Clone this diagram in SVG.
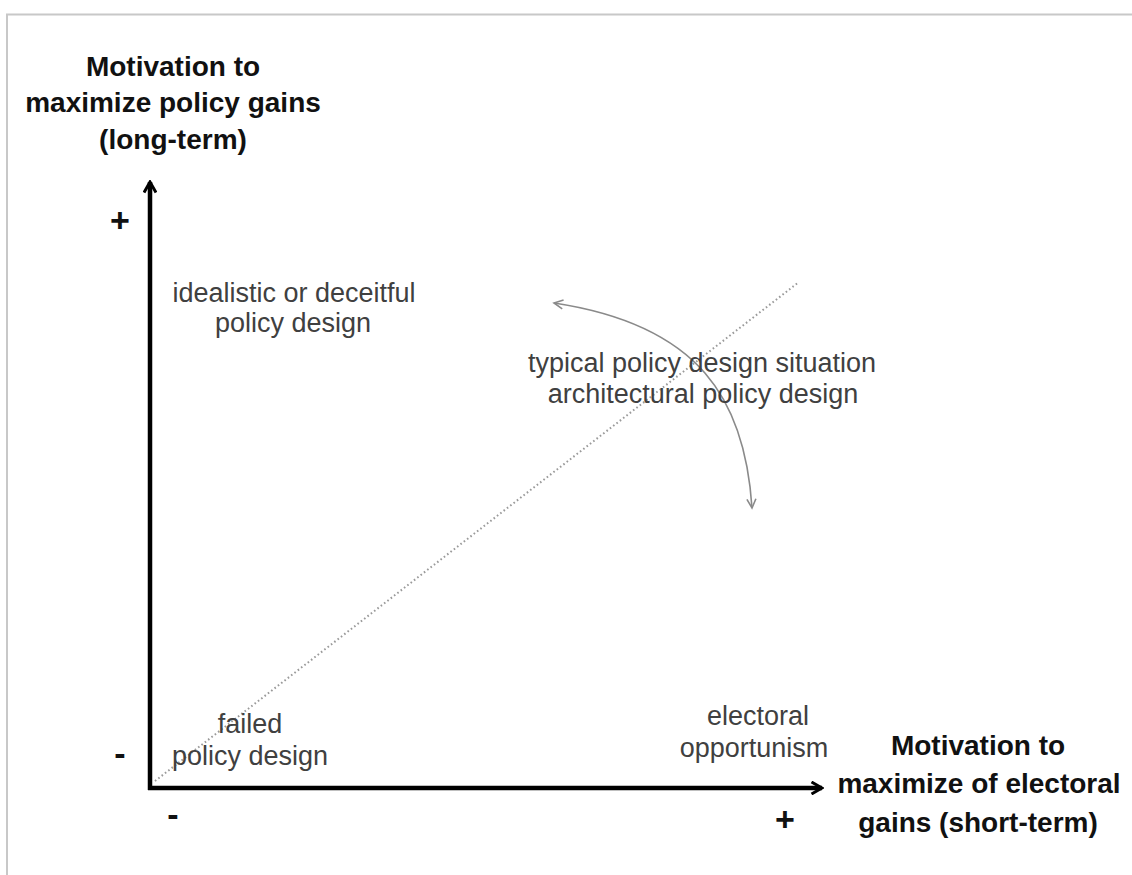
<svg xmlns="http://www.w3.org/2000/svg" width="1132" height="875" viewBox="0 0 1132 875">
<defs>
<style>
.h{font-family:"Liberation Sans",Arial,sans-serif;font-weight:bold;font-size:28px;fill:#111;text-anchor:middle}
.b{font-family:"Liberation Sans",Arial,sans-serif;font-size:27px;fill:#404040;text-anchor:middle}
.s{font-family:"Liberation Sans",Arial,sans-serif;font-weight:bold;font-size:34px;fill:#111;text-anchor:middle}
.axis{stroke:#000;stroke-width:4.5;fill:none}
.arc{stroke:#8a8a8a;stroke-width:1.6;fill:none}
</style>
<marker id="ah" viewBox="0 0 14 14" refX="12" refY="7" markerWidth="14" markerHeight="14" markerUnits="userSpaceOnUse" orient="auto">
<path d="M1.5,1 L12,7 L1.5,13" fill="none" stroke="#000" stroke-width="3"/>
</marker>
<marker id="ag" viewBox="0 0 12 12" refX="10" refY="6" markerWidth="12" markerHeight="12" markerUnits="userSpaceOnUse" orient="auto-start-reverse">
<path d="M1,1.5 L10,6 L1,10.5" fill="none" stroke="#8a8a8a" stroke-width="1.6"/>
</marker>
</defs>
<rect width="1132" height="875" fill="#fff"/>
<path d="M7,875 V14.5 H1132" fill="none" stroke="#c8c8c8" stroke-width="2"/>
<g id="connectors">
<line x1="150" y1="790" x2="150" y2="182" class="axis" marker-end="url(#ah)"/>
<line x1="148" y1="788" x2="822" y2="788" class="axis" marker-end="url(#ah)"/>
<line x1="155" y1="781" x2="799" y2="282" stroke="#9a9a9a" stroke-width="2" stroke-dasharray="1.6 2.6"/>
<path d="M752,508 C745,400 700,325 554,303" class="arc" marker-start="url(#ag)" marker-end="url(#ag)"/>
</g>
<g id="y-axis-label">
<text class="h" x="173" y="76">Motivation to</text>
<text class="h" x="173" y="112">maximize policy gains</text>
<text class="h" x="173" y="149">(long-term)</text>
</g>
<g id="x-axis-label">
<text class="h" x="978" y="755">Motivation to</text>
<text class="h" x="979" y="793">maximize of electoral</text>
<text class="h" x="978" y="832">gains (short-term)</text>
</g>
<g id="signs">
<text class="s" x="120" y="232">+</text>
<text class="s" x="120" y="765">-</text>
<text class="s" x="173" y="826">-</text>
<text class="s" x="785" y="831">+</text>
</g>
<g id="idealistic">
<text class="b" x="294" y="302">idealistic or deceitful</text>
<text class="b" x="293" y="332">policy design</text>
</g>
<g id="typical">
<text class="b" x="702" y="372">typical policy design situation</text>
<text class="b" x="703" y="403">architectural policy design</text>
</g>
<g id="failed">
<text class="b" x="250" y="733">failed</text>
<text class="b" x="250" y="765">policy design</text>
</g>
<g id="opportunism">
<text class="b" x="758" y="725">electoral</text>
<text class="b" x="754" y="757">opportunism</text>
</g>
</svg>
